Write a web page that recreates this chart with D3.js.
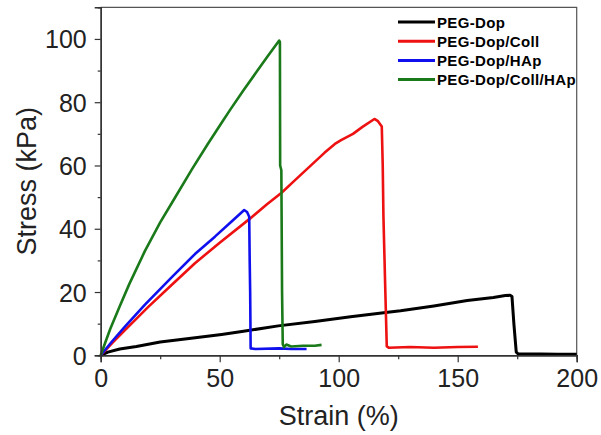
<!DOCTYPE html>
<html>
<head>
<meta charset="utf-8">
<script src="https://cdn.jsdelivr.net/npm/d3@7"></script>
<style>
  html, body { margin: 0; padding: 0; background: #fff; }
  svg { display: block; font-family: "Liberation Sans", Arial, sans-serif; }
</style>
</head>
<body>
<svg id="chart" width="601" height="435"></svg>
<script>
// Tensile stress–strain curves of the four hydrogels
const seriesNames = ["PEG-Dop", "PEG-Dop/Coll", "PEG-Dop/HAp", "PEG-Dop/Coll/HAp"];
const seriesColors = ["#000000", "#ee1111", "#1010ee", "#1a7a1a"];

// [strain %, stress kPa]
const pegDop = [[0,0],[3,1.0],[8,2.0],[15,2.8],[25,4.2],[38,5.4],[50.8,6.6],[60,7.6],[74.6,9.3],[90,10.7],[105,12.2],[121.5,13.7],[126,14.1],[140,15.6],[154,17.3],[165,18.3],[170,18.9],[172,19.0],[172.8,18.6],[173.6,10],[174.6,1.0],[175.5,0.4],[185,0.4],[192,0.3],[200,0.3]];
const pegDopColl = [[0,0],[5,4.0],[10,7.8],[20,15.3],[30,22.4],[39.6,29.1],[50,35.6],[62.7,43.2],[70,47.8],[76,51.4],[82,55.6],[88,59.8],[94,64.0],[98.4,66.8],[101,68.0],[106,70.0],[110,72.2],[115,74.7],[116.5,74.0],[118.1,72.3],[118.5,60],[118.8,43.8],[119.6,20],[120.2,2.8],[121,2.4],[130,2.6],[140,2.4],[150,2.6],[158.5,2.7]];
const pegDopHAp = [[0,0],[5,4.6],[10,8.9],[18.6,16.0],[30,24.8],[39.6,32.0],[48,37.5],[55,42.3],[60.3,45.9],[61.5,45.3],[62.4,43.8],[62.6,30],[62.8,20],[63.0,2.2],[65,2.0],[75,2.2],[80,2.0],[86.5,2.0]];
const pegDopCollHAp = [[0,0],[2,4.2],[4,8.3],[8,15.5],[12,22.5],[18.6,33.0],[25,42.0],[30,48.3],[38.5,59.0],[45,66.8],[51.5,74.3],[54.3,77.5],[60,83.8],[65.5,89.6],[70,94.4],[75,99.5],[75.3,99.0],[75.4,60],[75.9,58.5],[76.2,20],[76.5,3.5],[77,2.6],[78,3.4],[80,2.8],[85,3.0],[90,3.0],[92.8,3.3]];
const seriesData = [pegDop, pegDopColl, pegDopHAp, pegDopCollHAp];

const xMajorTicks = [0, 50, 100, 150, 200];
const xMinorTicks = [25, 75, 125, 175];
const yMajorTicks = [0, 20, 40, 60, 80, 100];
const yMinorTicks = [10, 30, 50, 70, 90];

const svg = d3.select("#chart");
const plotLeft = 100.7, plotRight = 576.7, plotTop = 7.3, plotBottom = 355.3;

const x = d3.scaleLinear().domain([0, 200]).range([plotLeft, plotRight]);
const y = d3.scaleLinear().domain([0, 110]).range([plotBottom, plotTop]);

// plot frame (top and right edges)
svg.append("path")
  .attr("d", `M${plotLeft},${plotTop}H${plotRight}V${plotBottom}`)
  .attr("fill", "none").attr("stroke", "#555").attr("stroke-width", 1.2);

// curves
const line = d3.line().x(d => x(d[0])).y(d => y(d[1]));
seriesData.forEach((data, i) => {
  svg.append("path")
    .datum(data)
    .attr("d", line)
    .attr("fill", "none")
    .attr("stroke", seriesColors[i])
    .attr("stroke-width", i === 0 ? 3 : 2.6)
    .attr("stroke-linejoin", "round");
});

// axes
const xAxis = svg.append("g").attr("transform", `translate(0,${plotBottom})`)
  .call(d3.axisBottom(x).tickValues(xMajorTicks).tickSize(7).tickPadding(6).tickFormat(d3.format("d")));
const xMinor = svg.append("g").attr("transform", `translate(0,${plotBottom})`)
  .call(d3.axisBottom(x).tickValues(xMinorTicks).tickSize(4).tickFormat(""));
const yAxis = svg.append("g").attr("transform", `translate(${plotLeft},0)`)
  .call(d3.axisLeft(y).tickValues(yMajorTicks).tickSize(6).tickPadding(8).tickFormat(d3.format("d")));
const yMinor = svg.append("g").attr("transform", `translate(${plotLeft},0)`)
  .call(d3.axisLeft(y).tickValues(yMinorTicks).tickSize(3).tickFormat(""));

[xAxis, xMinor, yAxis, yMinor].forEach(g => {
  g.select(".domain").attr("stroke", "#333").attr("stroke-width", 1.4);
  g.selectAll(".tick line").attr("stroke", "#333").attr("stroke-width", 1.2);
  g.selectAll("text").attr("font-size", 25).attr("fill", "#222")
    .attr("font-family", "'Liberation Sans', Arial, sans-serif");
});
xAxis.selectAll("text").attr("dy", "0.75em");
yAxis.selectAll("text").attr("dy", "0.36em");

// axis titles
svg.append("text")
  .attr("x", (plotLeft + plotRight) / 2).attr("y", 425)
  .attr("text-anchor", "middle").attr("font-size", 27).attr("fill", "#222")
  .text("Strain (%)");
svg.append("text")
  .attr("transform", `translate(36,${(plotTop + plotBottom) / 2}) rotate(-90)`)
  .attr("text-anchor", "middle").attr("font-size", 27).attr("fill", "#222")
  .text("Stress (kPa)");

// legend
const legend = svg.append("g");
seriesNames.forEach((name, i) => {
  const ly = 22 + i * 19.2;
  legend.append("line")
    .attr("x1", 398).attr("x2", 435).attr("y1", ly).attr("y2", ly)
    .attr("stroke", seriesColors[i]).attr("stroke-width", 3);
  legend.append("text")
    .attr("x", 437).attr("y", ly + 5.5)
    .attr("font-size", 15).attr("font-weight", "bold").attr("fill", "#000")
    .attr("letter-spacing", 0.35)
    .text(name);
});
</script>
</body>
</html>
